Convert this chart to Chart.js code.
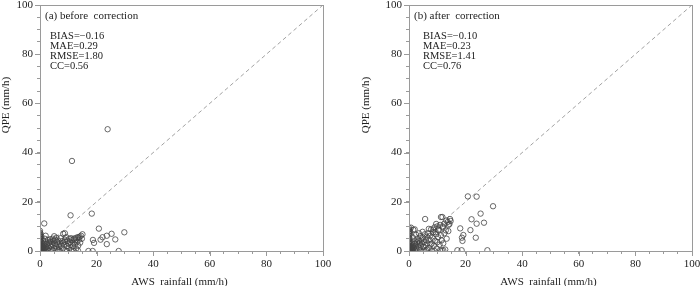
<!DOCTYPE html>
<html>
<head>
<meta charset="utf-8">
<script src="https://cdn.jsdelivr.net/npm/chart.js@4/dist/chart.umd.min.js"></script>
<style>
html, body { margin: 0; padding: 0; background: #fff; overflow: hidden; width: 700px; height: 286px; }
.wrap { position: absolute; top: -10px; height: 296px; }
#boxA { left: 0; width: 350px; }
#boxB { left: 350px; width: 360px; }
</style>
</head>
<body>
<div class="wrap" id="boxA"><canvas id="chartA"></canvas></div>
<div class="wrap" id="boxB"><canvas id="chartB"></canvas></div>
<script>
// (a) before correction : AWS rainfall vs QPE (mm/h)
var beforeAws = [
  23.9,11.3,1.5,18.3,10.8,20.8,29.8,25.3,23.6,22.1,
  26.6,23.6,18.7,19.1,27.8,17.1,18.6,15,8.2,8.8,
  21.4,0,0,0,0,0,0,0,0,0,
  0,0,0,0,0,0,0,0,0,0.2,
  0.3,0.4,0.5,0.5,0.6,0.7,0.8,0.9,1,1,
  1.2,1.3,1.5,1.5,1.7,1.8,2,2,2.2,2.5,
  2.6,2.8,3,3,3.2,3.4,3.6,3.8,4,4,
  4.3,4.5,4.6,4.8,5,5.2,5.4,5.6,5.8,6,
  6,6.2,6.5,6.8,7,7,7.3,7.5,7.8,8,
  8.2,8.5,8.8,9,9,9.3,9.5,9.8,10,10.2,
  10.4,10.6,10.8,11,11,11.3,11.6,11.8,12,12,
  12.3,12.5,12.8,13,13.2,13.5,13.8,14,14.2,14.5,
  14.8,2,5,6.6,0.3,0.6,1,1.4,0.4,0.8,
  1.1,0.2,0.3,0.5,0.2,9.6,13.4,12.5,13.6,3.5,
  0.1,0.2,0.4,0.6,0.3,0.7,0.1,0.5,0.2,0.9
];
var beforeQpe = [
  49.5,36.6,11.2,15.2,14.5,9.1,7.6,7.0,6.2,5.6,
  4.7,2.8,4.5,3.3,0,0,0,6.8,7.0,7.2,
  4.6,0,0.3,0.6,1,1.4,1.8,2.2,2.6,3,
  3.5,4,4.5,5,5.5,6,6.6,7.5,8.2,0.2,
  0.8,1.5,0.4,2.5,3.4,1.1,0.1,2,0.5,4.2,
  1.4,3,0.2,2.2,5,1,3.6,0.4,1.8,2.8,
  0.8,4.5,1.4,0,3.2,2.2,4.8,0.6,3.8,1.8,
  2.6,5,0.2,4.2,1.2,3,4.6,2,5.4,0.8,
  3.6,2.6,4.2,1.6,3,0,5.2,2.2,4,1,
  3.4,2.6,4.6,0.2,3.8,5.6,2,4.2,3,1.2,
  5,3.6,2.4,5.2,0.3,4.4,1.8,3.2,5,0,
  2.6,4.4,1,3.6,5.6,2.2,4.6,5.8,3.4,6.2,
  5,6.2,6,0.3,0,0,0,0.6,0.4,1.6,
  2.6,3.8,4.8,5.8,7,0,0.2,5.2,5.4,3.8,
  0.1,0.5,0.9,0.3,1.2,0.6,1.6,1.3,2,0.8
];

// (b) after correction
var afterAws = [
  20.8,23.9,29.7,25.3,22.1,23.9,26.5,21.7,18.1,19.2,
  18.7,18.9,23.6,27.7,17.1,18.6,5.7,11.3,11.8,14.5,
  14.7,13.7,14.3,12.5,11.9,13.9,13.3,11.5,12.1,10.4,
  8.6,9.4,12.1,11.6,9,0,0,0,0,0,
  0,0,0,0,0,0,0,0,0,0,
  0,0.3,0.4,0.5,0.5,0.6,0.7,0.8,0.9,1,
  1,1.2,1.3,1.5,1.5,1.7,1.8,2,2,2.3,
  2.5,2.6,2.8,3,3,3.2,3.4,3.6,3.8,4,
  4,4.2,4.4,4.6,4.8,5,5,5.3,5.6,5.8,
  6,6,6.3,6.5,6.8,7,7,7.2,7.5,7.8,
  8,8,8.3,8.5,8.8,9,9.2,9.5,9.8,10,
  10,10.3,10.5,10.8,11,11,11.3,12,12.5,12.8,
  13,14,2,3.5,0.2,0.5,1,0.3,0.6,1.2,
  0.2,0.4,0.3,1.4,2.2,5.2,6.5,7.6,9.6,13.2,
  0.1,0.2,0.4,0.6,0.3,0.7,0.1,0.5,0.2,0.9
];
var afterQpe = [
  22.2,22.1,18.2,15.2,12.9,11.1,11.5,8.5,9.2,6.5,
  5.4,4.1,5.4,0.3,0.3,0.3,13,13.8,13.8,13,
  12.2,11.8,11,11.1,10,8.1,5,4.3,3.1,8.7,
  8.7,7.7,0.3,0.2,0,0,0.4,0.8,1.2,1.7,
  2.2,2.8,3.4,4,4.8,5.5,6.2,7,7.8,8.6,
  9.4,0.2,1,0.5,1.8,2.6,9.5,0.1,1.4,3.2,
  0.6,2,5.6,0.2,8.6,1.2,3,4.2,0.4,2.2,
  6.6,1,3.6,0,5,2.6,4.2,1.4,3.4,6,
  0.4,2.2,4.6,3,7.8,1.6,5.4,3.6,6.8,2.4,
  4.4,0.2,5.8,3.2,7.2,1.2,9,4.6,6.2,8.8,
  3,0,5.4,7.6,2.2,9.6,4.2,6.8,1,10,
  3.6,5.6,8.4,2.6,10.6,0.3,6.4,9.6,7.2,0.6,
  8.4,10.6,8.8,7.2,0,0,0,0.6,1.2,0.4,
  5,6.8,8,1.6,3,0,0.5,2.6,11,12.4,
  0.1,0.5,0.9,0.3,1.2,0.6,1.6,1.3,2,0.8
];

var axisMin = 0, axisMax = 100, minorStep = 5, majorStep = 20;
var oneToOne = [0, 100];

var panelA = { title: '(a) before  correction', stats: ['BIAS=\u22120.16', 'MAE=0.29', 'RMSE=1.80', 'CC=0.56'] };
var panelB = { title: '(b) after  correction',  stats: ['BIAS=\u22120.10', 'MAE=0.23', 'RMSE=1.41', 'CC=0.76'] };

var serif = '"Liberation Serif", "DejaVu Serif", serif';
var frameColor = '#9a9a9a';

function toPoints(xs, ys) {
  return xs.map(function(x, i) { return { x: x, y: ys[i] }; });
}

// frame, long major ticks and text labels
var decor = {
  id: 'decor',
  afterDraw: function(chart, args, opts) {
    var ctx = chart.ctx, a = chart.chartArea;
    var xs = chart.scales.x, ys = chart.scales.y;
    ctx.save();
    ctx.strokeStyle = frameColor;
    ctx.lineWidth = 1;
    ctx.strokeRect(Math.round(a.left) + 0.5, Math.round(a.top) + 0.5, Math.round(a.right - a.left), Math.round(a.bottom - a.top));
    ctx.beginPath();
    for (var v = axisMin; v <= axisMax; v += majorStep) {
      var px = Math.round(xs.getPixelForValue(v)) + 0.5;
      ctx.moveTo(px, a.bottom); ctx.lineTo(px, a.bottom + 5);
      var py = Math.round(ys.getPixelForValue(v)) + 0.5;
      ctx.moveTo(a.left, py); ctx.lineTo(a.left - 5, py);
    }
    ctx.stroke();

    ctx.fillStyle = '#222';
    ctx.textBaseline = 'middle';
    ctx.textAlign = 'left';
    ctx.font = '11px ' + serif;
    ctx.fillText(opts.title, a.left + 5, a.top + 11);
    ctx.font = '10.5px ' + serif;
    opts.stats.forEach(function(s, i) {
      ctx.fillText(s, a.left + opts.statsIndent, a.top + 31 + i * 10);
    });

    ctx.font = '11px ' + serif;
    ctx.textAlign = 'center';
    ctx.fillText('AWS  rainfall (mm/h)', (a.left + a.right) / 2 - 2, a.bottom + 31);
    ctx.translate(opts.yTitleX, a.top + 100);
    ctx.rotate(-Math.PI / 2);
    ctx.fillText('QPE (mm/h)', 0, 0);
    ctx.restore();
  }
};

function axis(size) {
  return {
    type: 'linear',
    min: axisMin,
    max: axisMax,
    afterFit: function(s) {
      if (s.isHorizontal()) { s.height = size; } else { s.width = size; }
    },
    ticks: {
      stepSize: minorStep,
      autoSkip: false,
      maxRotation: 0,
      padding: 4,
      color: '#222',
      font: { family: serif, size: 11 },
      callback: function(v) { return v % majorStep === 0 ? v : ''; }
    },
    grid: { drawOnChartArea: false, tickLength: 3, color: frameColor, lineWidth: 1 },
    border: { color: frameColor }
  };
}

function makeChart(id, xs, ys, panel, yAxisWidth, padRight, statsIndent, yTitleX) {
  return new Chart(document.getElementById(id), {
    type: 'scatter',
    data: {
      datasets: [
        {
          label: 'samples',
          data: toPoints(xs, ys),
          pointStyle: 'circle',
          pointRadius: 2.7,
          pointHoverRadius: 2.7,
          borderWidth: 0.8,
          borderColor: '#444',
          backgroundColor: 'rgba(0,0,0,0)'
        },
        {
          label: '1:1',
          type: 'line',
          data: toPoints(oneToOne, oneToOne),
          borderColor: '#8a8a8a',
          borderWidth: 0.8,
          borderDash: [4, 3],
          pointRadius: 0,
          fill: false
        }
      ]
    },
    options: {
      responsive: true,
      maintainAspectRatio: false,
      animation: false,
      events: [],
      layout: { padding: { top: 15, right: padRight, left: 0, bottom: 0 } },
      plugins: {
        legend: { display: false },
        tooltip: { enabled: false },
        decor: { title: panel.title, stats: panel.stats, statsIndent: statsIndent, yTitleX: yTitleX }
      },
      scales: {
        x: axis(35),
        y: axis(yAxisWidth)
      }
    },
    plugins: [decor]
  });
}

makeChart('chartA', beforeAws, beforeQpe, panelA, 40, 27, 10, 6);
makeChart('chartB', afterAws, afterQpe, panelB, 59, 18, 14, 16);
</script>
</body>
</html>
